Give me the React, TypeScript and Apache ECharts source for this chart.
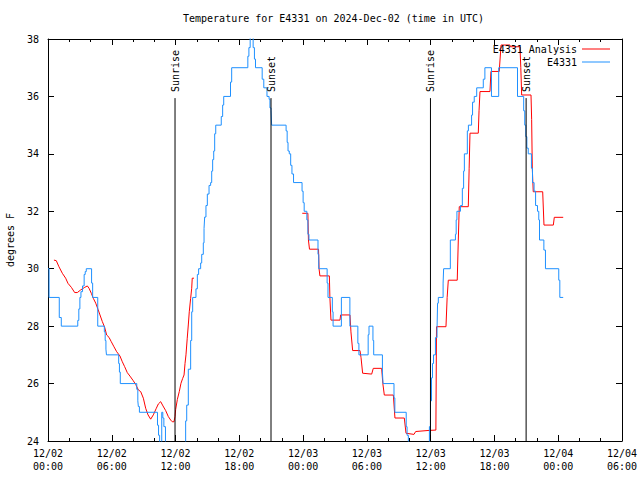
import React, { useEffect, useRef } from 'react';
import * as echarts from 'echarts';

const FONT = "'DejaVu Sans Mono', 'Liberation Mono', monospace";
const TITLE = 'Temperature for E4331 on 2024-Dec-02 (time in UTC)';
const Y_NAME = 'degrees F';
const SERIES_ANALYSIS = 'E4331 Analysis';
const SERIES_OBS = 'E4331';

// x is hours since 12/02 00:00 UTC
const X_MIN = 0;
const X_MAX = 54;
const X_STEP = 6;
const Y_MIN = 24;
const Y_MAX = 38;
const Y_STEP = 2;
const START_MONTH = 12;
const START_DAY = 2;

const sunHours = [11.95, 20.98, 35.98, 44.98];
const sunLabels = ['Sunrise', 'Sunset', 'Sunrise', 'Sunset'];
const SUN_LINE_TOP = 0.853; // fraction of plot height

// E4331 (observations), change points: value holds until next hour entry
const blueHours = [
  0.0, 0.1, 1.06, 1.25, 2.8, 2.9, 3.0, 3.1, 3.25, 3.4, 3.5, 3.6, 4.1, 4.2, 4.68,
  5.3, 5.38, 5.45, 5.5, 6.65, 6.72, 6.8, 8.35, 8.45, 8.5, 8.6, 10.3, 10.4, 10.5,
  10.7, 10.8, 10.9, 11.05, 12.82, 12.95, 13.05, 13.2, 13.42, 13.52, 13.61, 13.92,
  14.05, 14.17, 14.36, 14.46, 14.61, 14.68, 14.74, 14.86, 14.99, 15.15, 15.3, 15.4,
  15.49, 15.59, 15.68, 15.78, 16.3, 16.43, 16.53, 17.17, 17.28, 18.8, 18.9, 19.02,
  19.3, 19.42, 19.52, 20.15, 20.3, 20.6, 20.8, 20.88, 20.98, 21.04, 22.4, 22.5,
  22.58, 22.7, 22.83, 22.95, 23.1, 23.9, 24.0, 24.1, 24.35, 24.45, 24.55, 25.4,
  25.47, 26.26, 26.34, 26.75, 26.82, 27.6, 28.4, 29.15, 29.25, 30.12, 30.2, 30.57,
  30.64, 31.46, 31.52, 32.55, 32.63, 33.7, 33.78, 33.9, 35.88, 35.98, 36.08, 36.17,
  36.27, 36.45, 36.6, 36.65, 36.72, 37.17, 37.22, 37.85, 38.33, 38.4, 38.47, 38.8,
  38.98, 39.1, 39.17, 39.45, 39.55, 39.85, 39.94, 40.1, 40.33, 40.95, 41.1, 41.72,
  42.4, 44.17, 44.75, 44.85, 44.95, 45.05, 45.18, 45.48, 45.58, 45.73, 45.87, 46.05,
  46.17, 46.24, 46.65, 46.8, 48.05, 48.15, 48.47,
];
const blueTemps = [
  30.0, 29.0, 28.3, 28.0, 28.2, 28.6, 29.0, 29.2, 29.4, 29.8, 29.9, 30.0, 29.5, 29.0, 28.0,
  27.8, 27.5, 27.2, 27.0, 26.7, 26.4, 26.0, 25.8, 25.4, 25.2, 25.0, 24.55, 24.2, 23.5,
  25.0, 24.8, 24.5, 23.5, 23.9, 24.7, 25.25, 26.5, 27.5, 28.5, 29.0, 29.3,
  29.8, 30.0, 30.2, 30.5, 30.9, 31.4, 31.8, 32.2, 32.6, 32.9, 33.0, 33.4,
  33.8, 34.1, 34.7, 35.0, 35.3, 35.7, 36.0, 36.5, 37.0, 37.4, 37.7, 38.2,
  37.7, 37.3, 37.0, 36.6, 36.3, 36.0, 35.9, 35.6, 35.5, 35.0, 34.8, 34.4,
  34.1, 34.0, 33.6, 33.3, 33.0, 32.7, 32.3, 32.0, 31.7, 31.2, 31.0, 30.5,
  30.0, 29.5, 29.0, 28.5, 28.0, 29.0, 28.0, 27.4, 27.0, 27.7, 28.0, 27.5,
  27.0, 26.4, 26.0, 25.5, 25.0, 24.5, 24.2, 23.5, 24.5, 25.4, 26.2, 26.7,
  27.0, 27.6, 27.9, 28.8, 29.0, 29.5, 30.0, 31.0, 31.2, 31.7, 32.0, 32.2,
  32.8, 33.4, 34.0, 34.8, 35.0, 35.35, 35.8, 36.0, 36.3, 36.6, 37.0, 36.0,
  37.0, 36.0, 35.5, 35.0, 34.6, 34.2, 34.0, 33.5, 33.0, 32.7, 32.2, 32.0,
  31.7, 31.0, 30.65, 30.0, 29.6, 29.0, 29.0,
];

// E4331 Analysis (null = no data)
const redHours = [
  0.56, 0.78, 1.03, 1.35, 1.66, 1.88, 2.2, 2.51, 2.76, 3.07, 3.45, 3.7, 3.86, 4.08,
  4.26, 4.49, 4.7, 4.89, 5.11, 5.33, 5.52, 5.74, 5.95, 6.21, 6.46, 6.77, 6.99, 7.21,
  7.46, 7.71, 8.02, 8.25, 8.5, 8.72, 8.97, 9.19, 9.41, 9.66, 9.91, 10.19, 10.38, 10.6,
  10.82, 11.07, 11.32, 11.54, 11.69, 11.85, 11.95, 12.01, 12.17, 12.35, 12.51, 12.67,
  12.8, 12.89, 12.98, 13.1, 13.2, 13.29, 13.42, 13.52, 13.57, 13.73,
  18.0,
  23.92, 24.45, 24.5, 24.6, 25.45, 25.5, 25.58, 26.47, 26.52, 26.62, 27.47, 27.53,
  28.41, 28.5, 28.66, 29.35, 29.45, 29.6, 30.45, 30.6, 31.39, 31.5, 31.64, 32.49,
  32.64, 33.52, 33.68, 34.43, 34.59, 35.87, 36.49, 36.55, 37.44, 37.55, 37.66, 38.5,
  38.6, 38.69, 39.54, 39.62, 39.7, 40.48, 40.55, 40.64, 41.58, 41.67, 42.45, 42.62,
  43.46, 43.5, 44.4, 44.48, 44.56, 45.44, 45.5, 45.56, 45.65, 46.54, 46.66, 47.54,
  47.63, 48.47,
];
const redTemps = [
  30.3, 30.28, 30.07, 29.84, 29.67, 29.49, 29.35, 29.17, 29.17, 29.26, 29.35, 29.4, 29.32, 29.14,
  28.97, 28.8, 28.59, 28.39, 28.16, 27.96, 27.69, 27.61, 27.46, 27.28, 27.11, 26.96, 26.76, 26.59,
  26.38, 26.26, 26.1, 25.97, 25.78, 25.72, 25.49, 25.14, 24.91, 24.76, 24.91, 25.14, 25.29, 25.37,
  25.22, 25.06, 24.85, 24.73, 24.67, 24.67, 24.85, 25.1, 25.45, 25.72, 26.01, 26.18,
  26.3, 26.7, 27.0, 27.58, 28.04, 28.5, 28.97, 29.32, 29.67, 29.67,
  null,
  31.93, 31.93, 31.0, 30.68, 30.68, 30.0, 29.75, 29.75, 29.0, 28.21, 28.21, 28.39,
  28.39, 27.8, 27.15, 27.15, 26.9, 26.36, 26.33, 26.53, 26.53, 26.0, 25.6, 25.6,
  24.8, 24.8, 24.27, 24.23, 24.33, 24.37, 24.38, 27.98, 27.98, 29.0, 29.6, 29.6,
  31.0, 32.16, 32.16, 33.5, 34.72, 34.72, 35.5, 36.17, 36.17, 36.87, 36.87, 37.79,
  37.79, 37.73, 37.73, 37.0, 36.05, 36.05, 35.2, 33.5, 32.68, 32.68, 31.52, 31.52,
  31.79, 31.79,
];

const pad2 = (n: number) => (n < 10 ? '0' + n : '' + n);
const xLabel = (v: number) => {
  const day = START_DAY + Math.floor(v / 24);
  const hr = Math.round(v % 24);
  return `${pad2(START_MONTH)}/${pad2(day)}\n${pad2(hr)}:00`;
};

export default function App() {
  const ref = useRef<HTMLDivElement>(null);
  useEffect(() => {
    if (!ref.current) return;
    const chart = echarts.init(ref.current, null, { renderer: 'svg' });
    const axisLine = { show: true, onZero: false, lineStyle: { color: '#000', width: 1 } };
    const xCommon = {
      type: 'value',
      min: X_MIN,
      max: X_MAX,
      interval: X_STEP,
      axisLine,
      axisTick: { show: true, inside: true, length: 6, lineStyle: { color: '#000' } },
      minorTick: { show: true, splitNumber: 3, length: 3, lineStyle: { color: '#000' } },
      splitLine: { show: false },
      minorSplitLine: { show: false },
    };
    const yCommon = {
      type: 'value',
      min: Y_MIN,
      max: Y_MAX,
      interval: Y_STEP,
      axisLine,
      axisTick: { show: true, inside: true, length: 6, lineStyle: { color: '#000' } },
      splitLine: { show: false },
    };
    const textStyle = { fontFamily: FONT, fontSize: 10, color: '#000' };
    chart.setOption({
      animation: false,
      backgroundColor: '#fff',
      textStyle,
      title: {
        text: TITLE,
        left: 183,
        top: 13,
        padding: 0,
        textStyle: { ...textStyle, fontWeight: 'normal' },
      },
      legend: [
        {
          data: [SERIES_ANALYSIS],
          orient: 'vertical',
          right: 30,
          top: 44,
          padding: 0,
          align: 'right',
          icon: 'rect',
          itemWidth: 28,
          itemHeight: 1,
          textStyle,
        },
        {
          data: [SERIES_OBS],
          orient: 'vertical',
          right: 30,
          top: 57,
          padding: 0,
          align: 'right',
          icon: 'rect',
          itemWidth: 28,
          itemHeight: 1,
          textStyle,
        },
      ],
      grid: {
        left: 48,
        right: 18,
        top: 39,
        bottom: 39,
        containLabel: false,
        outerBoundsMode: 'none',
      },
      xAxis: [
        {
          ...xCommon,
          position: 'bottom',
          axisLabel: {
            ...textStyle,
            margin: 6,
            lineHeight: 13,
            formatter: (v: number) => xLabel(v),
          },
        },
        { ...xCommon, position: 'top', axisLabel: { show: false } },
      ],
      yAxis: [
        {
          ...yCommon,
          position: 'left',
          name: Y_NAME,
          nameLocation: 'middle',
          nameRotate: 90,
          nameGap: 33,
          nameTextStyle: textStyle,
          axisLabel: { ...textStyle, margin: 9 },
        },
        { ...yCommon, position: 'right', axisLabel: { show: false } },
      ],
      series: [
        {
          name: SERIES_ANALYSIS,
          type: 'line',
          xAxisIndex: 0,
          yAxisIndex: 0,
          data: redHours.map((h, i) => [h, redTemps[i]]),
          showSymbol: false,
          symbol: 'none',
          connectNulls: false,
          lineStyle: { color: '#ff0000', width: 1 },
          itemStyle: { color: '#ff0000' },
          clip: true,
          z: 3,
        },
        {
          name: SERIES_OBS,
          type: 'line',
          xAxisIndex: 0,
          yAxisIndex: 0,
          step: 'end',
          data: blueHours.map((h, i) => [h, blueTemps[i]]),
          showSymbol: false,
          symbol: 'none',
          lineStyle: { color: '#1e90ff', width: 1 },
          itemStyle: { color: '#1e90ff' },
          clip: true,
          z: 3,
        },
        {
          name: 'sun',
          type: 'custom',
          xAxisIndex: 0,
          yAxisIndex: 0,
          data: sunHours.map((h) => [h, Y_MIN]),
          z: 4,
          silent: true,
          renderItem: (params: any, api: any) => {
            const h = api.value(0);
            const bottom = api.coord([h, Y_MIN]);
            const top = api.coord([h, Y_MIN + SUN_LINE_TOP * (Y_MAX - Y_MIN)]);
            return {
              type: 'group',
              children: [
                {
                  type: 'line',
                  shape: { x1: bottom[0], y1: bottom[1], x2: top[0], y2: top[1] },
                  style: { stroke: '#000', lineWidth: 1 },
                },
                {
                  type: 'text',
                  x: top[0],
                  y: top[1] - 6,
                  rotation: Math.PI / 2,
                  style: {
                    text: sunLabels[params.dataIndex],
                    align: 'left',
                    verticalAlign: 'middle',
                    fontFamily: FONT,
                    fontSize: 10,
                    fill: '#000',
                  },
                },
              ],
            };
          },
        },
      ],
    });
    return () => chart.dispose();
  }, []);
  return <div ref={ref} style={{ width: 640, height: 480, position: 'absolute', left: 0, top: 0 }} />;
}
